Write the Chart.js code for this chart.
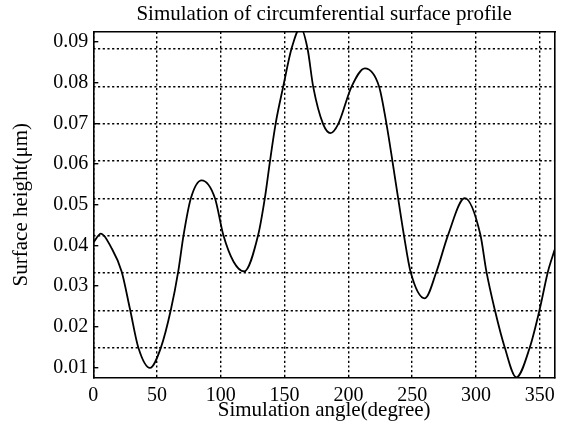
<!DOCTYPE html>
<html>
<head>
<meta charset="utf-8">
<script src="https://cdn.jsdelivr.net/npm/chart.js"></script>
<style>
  body { margin: 0; background: #fff; }
  #contenedor { width: 567px; height: 427px; }
</style>
</head>
<body>
<div id="contenedor"><canvas id="perfil"></canvas></div>
<script>
// angulo de simulacion (grados) y altura de superficie (um)
const angulos = [0, 6, 14, 22.2, 28.8, 35.3, 44.4, 53, 60.9, 66.6, 70.8, 76.5, 84.9, 95.4, 101.9, 110, 118.3,
  129.3, 134.5, 138.5, 142.9, 148.9, 155.4, 162.5, 168, 172.4, 180.2, 186, 192, 202.5, 212.9,
  224.1, 229.9, 234.6, 239, 243.5, 248.7, 259.9, 269.1, 278.2, 291.2, 303.5, 308.2, 314.7,
  322.6, 331.7, 342.2, 350, 356.5, 361.7];
const alturas = [0.0407, 0.0429, 0.0395, 0.0336, 0.0243, 0.0149, 0.0099, 0.0149, 0.0243, 0.0336, 0.0426, 0.0516, 0.0560, 0.0516, 0.0426, 0.0360, 0.0336,
  0.0426, 0.0516, 0.0606, 0.0698, 0.0790, 0.0883, 0.0935, 0.0883, 0.0790, 0.0698, 0.0676, 0.0698, 0.0790, 0.0835,
  0.0790, 0.0698, 0.0606, 0.0516, 0.0426, 0.0336, 0.0270, 0.0336, 0.0426, 0.0516, 0.0426, 0.0336, 0.0243,
  0.0149, 0.0076, 0.0149, 0.0243, 0.0336, 0.0389];

const puntos = angulos.map((a, i) => ({ x: a, y: alturas[i] }));

const letra = "'Liberation Serif', 'Times New Roman', serif";
const punteado = [2.2, 2.5];

var ctx = document.getElementById('perfil').getContext('2d');
var grafico = new Chart(ctx, {
  type: 'line',
  data: {
    datasets: [{
      data: puntos,
      borderColor: '#000',
      borderWidth: 1.8,
      pointRadius: 0,
      fill: false,
      cubicInterpolationMode: 'monotone'
    }]
  },
  options: {
    responsive: true,
    maintainAspectRatio: false,
    animation: false,
    layout: { padding: { right: 12 } },
    plugins: {
      legend: { display: false },
      tooltip: { enabled: false },
      title: {
        display: true,
        fullSize: false,
        text: 'Simulation of circumferential surface profile',
        color: '#000',
        font: { family: letra, size: 21, weight: 'normal' },
        padding: { top: 2, bottom: 4.5 }
      }
    },
    scales: {
      x: {
        type: 'linear',
        position: 'bottom',
        min: 0,
        max: 362,
        ticks: { stepSize: 50, includeBounds: false, padding: 6, color: '#000', font: { family: letra, size: 20 } },
        grid: { color: '#000', lineWidth: 1.4, drawTicks: false },
        border: { display: true, color: '#000', width: 1.6, dash: punteado },
        title: {
          display: true,
          text: 'Simulation angle(degree)',
          color: '#000',
          font: { family: letra, size: 21 },
          padding: { top: 0, bottom: 4.4 }
        },
        afterFit: s => { s.height = 49.3; s.paddingLeft = 0; s.paddingRight = 0; }
      },
      // marco superior
      xArriba: {
        type: 'linear',
        position: 'top',
        min: 0,
        max: 362,
        ticks: { display: false },
        grid: { display: false },
        border: { display: true, color: '#000', width: 1.6 },
        afterFit: s => { s.height = 0; s.paddingLeft = 0; s.paddingRight = 0; }
      },
      y: {
        position: 'left',
        min: 0.0075,
        max: 0.0925,
        ticks: {
          stepSize: 0.01,
          includeBounds: false,
          padding: 10,
          color: '#000',
          font: { family: letra, size: 20 },
          callback: v => v.toFixed(2)
        },
        grid: { drawOnChartArea: false, color: '#000', lineWidth: 1.4, tickLength: -5 },
        border: { display: true, color: '#000', width: 1.6 },
        title: {
          display: true,
          text: 'Surface height(\u03bcm)',
          color: '#000',
          font: { family: letra, size: 21 },
          padding: { top: 9, bottom: 0 }
        },
        afterFit: s => { s.width = 93.3; s.paddingTop = 0; s.paddingBottom = 0; }
      },
      // rejilla horizontal punteada + marco derecho
      rejilla: {
        position: 'right',
        min: 0.0075,
        max: 0.0925,
        ticks: { display: false },
        grid: { color: '#000', lineWidth: 1.4, drawTicks: false },
        border: { display: true, color: '#000', width: 1.6, dash: punteado },
        afterBuildTicks: s => {
          s.ticks = [0, 1, 2, 3, 4, 5, 6, 7, 8].map(k => ({ value: 0.01491 + k * 0.00917 }));
        },
        afterFit: s => { s.width = 0; s.paddingTop = 0; s.paddingBottom = 0; }
      }
    }
  }
});
</script>
</body>
</html>
